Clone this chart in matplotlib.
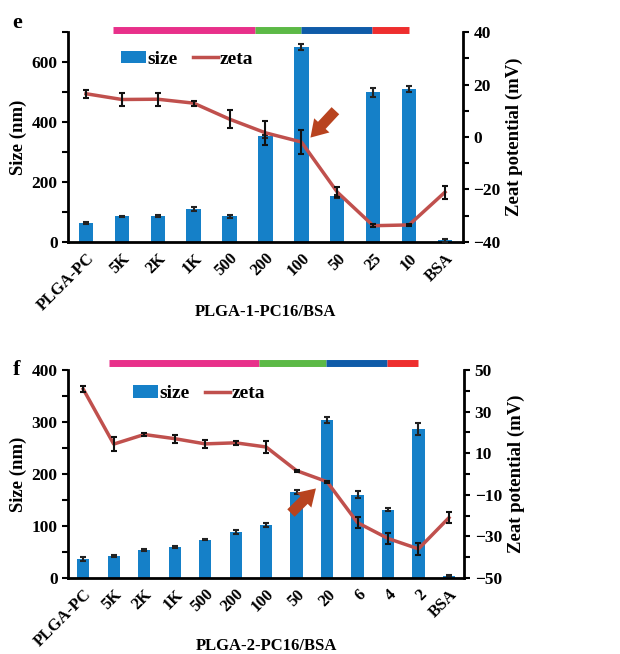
import matplotlib
matplotlib.use("Agg")
from matplotlib import pyplot as plt
from matplotlib.ticker import MultipleLocator, FixedLocator

plt.rcParams['font.family'] = ['Liberation Serif', 'DejaVu Serif']
plt.rcParams['font.weight'] = 'bold'

# panel e data
cats_e = ["PLGA-PC", "5K", "2K", "1K", "500", "200", "100", "50", "25", "10", "BSA"]
size_e = [62, 85, 86, 110, 85, 352, 650, 153, 500, 510, 5]
size_err_e = [3, 3, 3, 6, 6, 5, 10, 5, 15, 10, 5]
zeta_e = [16.5, 14.3, 14.4, 12.9, 6.8, 1.6, -1.9, -21.0, -33.8, -33.5, -21.0]
zeta_err_e = [1.5, 2.5, 2.5, 1.0, 3.5, 4.5, 4.5, 2.0, 0.5, 0.5, 2.5]

# panel f data
cats_f = ["PLGA-PC", "5K", "2K", "1K", "500", "200", "100", "50", "20", "6", "4", "2", "BSA"]
size_f = [36, 43, 54, 59, 74, 88, 102, 166, 304, 160, 131, 287, 4]
size_err_f = [4, 2, 2, 2, 1, 4, 3, 4, 6, 7, 3, 12, 1]
zeta_f = [40.8, 14.4, 19.0, 17.0, 14.5, 15.0, 13.0, 1.6, -3.7, -23.4, -31.0, -36.0, -21.0]
zeta_err_f = [1.5, 3.5, 0.5, 2.0, 2.0, 1.0, 3.0, 0.5, 0.5, 2.5, 2.5, 3.0, 2.5]

# colour strip segments (x ranges in category units)
strip_colors = ["#e8308a", "#5cb946", "#0f5ba8", "#ee2e2e"]
strip_e = [0.75, 4.7, 6.0, 7.97, 9.0]
strip_f = [0.85, 5.77, 7.97, 9.97, 11.0]

BAR = "#1580c8"
LINE = "#c0504d"
ARROW = "#b8431f"


def panel(rect, cats, size, size_err, zeta, zeta_err, ylim, ymaj, ymin,
          zlim, zticks, zminor, strip, strip_y, arrow, letter, letter_y,
          xlabel, xlabel_y, leg_anchor):
    ax = fig.add_axes(rect)
    x = range(len(cats))
    ax.bar(x, size, width=0.4, color=BAR, label="size", zorder=2)
    ax.errorbar(x, size, yerr=size_err, fmt="none", ecolor="#222222",
                elinewidth=1.5, capsize=2.5, capthick=1.5, zorder=3)
    ax.set_xlim(-0.5, len(cats) - 0.5)
    ax.set_ylim(*ylim)
    ax.yaxis.set_major_locator(MultipleLocator(ymaj))
    ax.yaxis.set_minor_locator(MultipleLocator(ymin))
    ax.set_xticks(list(x))
    ax.set_xticklabels(cats, rotation=45, ha="right", rotation_mode="anchor",
                       fontsize=12, fontweight="bold")
    ax.tick_params(axis="x", length=0, pad=6)
    ax.tick_params(axis="y", which="both", direction="out", length=4, width=1.5,
                   labelsize=12.5)
    ax.set_ylabel("Size (nm)", fontsize=13.5, fontweight="bold", labelpad=3)
    ax.set_xlabel(xlabel, fontsize=12, fontweight="bold", va="center")
    ax.xaxis.set_label_coords(0.5, xlabel_y)
    for s in ["top", "right"]:
        ax.spines[s].set_visible(False)
    for s in ["left", "bottom"]:
        ax.spines[s].set_linewidth(2)

    ax2 = ax.twinx()
    ax2.errorbar(x, zeta, yerr=zeta_err, fmt="none", ecolor="#111111",
                 elinewidth=1.5, capsize=2.5, capthick=1.5, zorder=3)
    ax2.plot(x, zeta, color=LINE, lw=2.5, label="zeta", zorder=2)
    ax2.set_ylim(*zlim)
    ax2.yaxis.set_major_locator(FixedLocator(zticks))
    ax2.yaxis.set_minor_locator(FixedLocator(zminor))
    ax2.tick_params(axis="y", which="both", direction="out", length=4, width=1.5,
                    labelsize=12.5)
    ax2.set_ylabel("Zeat potential (mV)", fontsize=13.5, fontweight="bold",
                   labelpad=4)
    for s in ["top", "left", "bottom"]:
        ax2.spines[s].set_visible(False)
    ax2.spines["right"].set_linewidth(2)

    # colour strip above the plot
    trans = ax.get_xaxis_transform()
    for i, c in enumerate(strip_colors):
        ax.plot([strip[i], strip[i + 1]], [strip_y, strip_y], color=c, lw=5,
                solid_capstyle="butt", transform=trans, clip_on=False)

    # arrow
    (tx, ty), (hx, hy) = arrow
    ax2.annotate("", xy=(hx, hy), xytext=(tx, ty),
                 arrowprops=dict(arrowstyle="simple,head_width=1.5,head_length=1.2,tail_width=0.75",
                                 color=ARROW, lw=0), zorder=5)

    h1, l1 = ax.get_legend_handles_labels()
    h2, l2 = ax2.get_legend_handles_labels()
    ax2.legend(h1 + h2, l1 + l2, ncol=2, frameon=False, loc="center left",
               bbox_to_anchor=leg_anchor, borderaxespad=0, borderpad=0,
               handlelength=1.25, handleheight=0.6, handletextpad=0.1,
               columnspacing=0.8, prop=dict(weight="bold", size=14))

    fig.text(0.02, letter_y, letter, fontsize=16, fontweight="bold",
             va="center")
    return ax, ax2


fig = plt.figure(figsize=(6.2, 6.54), dpi=100)

panel([0.1097, 0.63, 0.637, 0.321], cats_e, size_e, size_err_e, zeta_e,
      zeta_err_e, (0, 700), 200, 100, (-40, 40), [-40, -20, 0, 20, 40],
      [-30, -10, 10, 30], strip_e, 1.01,
      ((7.0, 10.8), (6.2, -1.0)), "e", 0.965, "PLGA-1-PC16/BSA", -0.333,
      (0.135, 0.87))

panel([0.1097, 0.1162, 0.639, 0.318], cats_f, size_f, size_err_f, zeta_f,
      zeta_err_f, (0, 400), 100, 50, (-50, 50), [-50, -30, -10, 10, 30, 50],
      [-40, -20, 0, 20, 40], strip_f, 1.034,
      ((6.75, -19.7), (7.7, -6.0)), "f", 0.434, "PLGA-2-PC16/BSA", -0.327,
      (0.165, 0.885))

fig.savefig("out.png", dpi=100)
